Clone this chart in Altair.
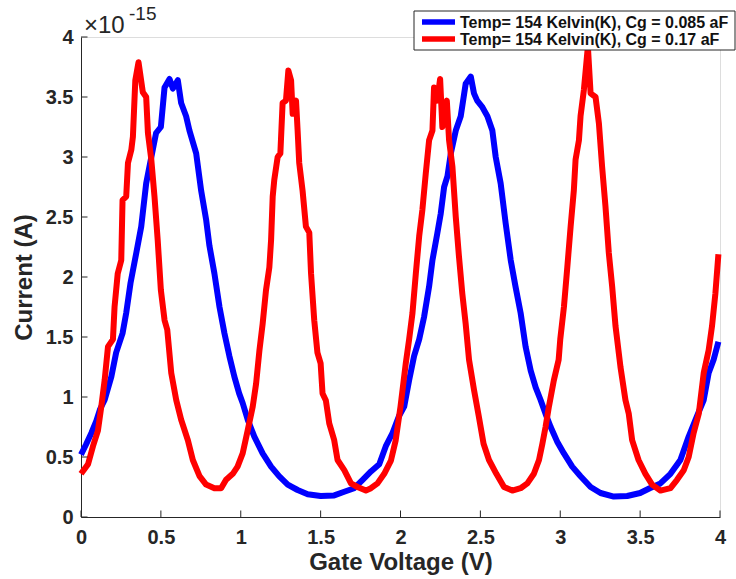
import altair as alt
import pandas as pd

# ---- data (current in units of 1e-15 A) ----
blue_v = [0.0, 0.03, 0.065, 0.096, 0.12, 0.148, 0.19, 0.22, 0.26, 0.283, 0.31, 0.346, 0.377, 0.408, 0.43,
          0.47, 0.5, 0.523, 0.554, 0.575, 0.606, 0.627, 0.658, 0.679, 0.721, 0.752, 0.783, 0.804, 0.835,
          0.867, 0.898, 0.929, 0.96, 0.99, 1.012, 1.044, 1.085, 1.137, 1.19, 1.24, 1.294, 1.356, 1.419,
          1.5, 1.585, 1.648, 1.71, 1.763, 1.815, 1.867, 1.908, 1.95, 1.99, 2.023, 2.054, 2.085, 2.117,
          2.148, 2.179, 2.2, 2.23, 2.252, 2.273, 2.294, 2.315, 2.346, 2.377, 2.408, 2.44, 2.46, 2.48,
          2.51, 2.544, 2.575, 2.596, 2.627, 2.658, 2.69, 2.72, 2.752, 2.783, 2.815, 2.846, 2.877, 2.908,
          2.94, 2.98, 3.023, 3.075, 3.127, 3.19, 3.252, 3.335, 3.419, 3.5, 3.56, 3.627, 3.69, 3.752,
          3.804, 3.856, 3.898, 3.929, 3.96, 3.99]
blue_i = [0.52, 0.6, 0.70, 0.8, 0.9, 0.975, 1.17, 1.37, 1.53, 1.70, 1.95, 2.2, 2.42, 2.78, 2.93,
          3.2, 3.25, 3.58, 3.65, 3.57, 3.64, 3.45, 3.34, 3.22, 3.03, 2.72, 2.48, 2.26, 2.03,
          1.75, 1.53, 1.34, 1.17, 1.03, 0.95, 0.81, 0.67, 0.53, 0.42, 0.34, 0.27, 0.225, 0.19,
          0.175, 0.18, 0.21, 0.24, 0.31, 0.38, 0.44, 0.59, 0.70, 0.84, 0.92, 1.14, 1.34, 1.48,
          1.67, 1.92, 2.14, 2.36, 2.53, 2.75, 2.84, 3.03, 3.22, 3.34, 3.61, 3.67, 3.53, 3.47,
          3.42, 3.34, 3.22, 3.0, 2.78, 2.45, 2.14, 1.92, 1.7, 1.42, 1.22, 1.08, 0.975, 0.86,
          0.75, 0.63, 0.53, 0.42, 0.34, 0.25, 0.2, 0.17, 0.175, 0.2, 0.24, 0.28, 0.36, 0.475,
          0.67, 0.84, 0.975, 1.2, 1.31, 1.46]

red_v = [0.0, 0.044, 0.075, 0.106, 0.127, 0.148, 0.169, 0.2, 0.21, 0.23, 0.252, 0.26, 0.283, 0.294,
         0.315, 0.325, 0.34, 0.36, 0.387, 0.408, 0.419, 0.44, 0.46, 0.48, 0.5, 0.523, 0.54, 0.565,
         0.596, 0.627, 0.669, 0.7, 0.742, 0.783, 0.835, 0.877, 0.908, 0.95, 0.98, 1.012, 1.044, 1.075,
         1.096, 1.117, 1.137, 1.158, 1.179, 1.19, 1.2, 1.21, 1.231, 1.248, 1.262, 1.283, 1.298, 1.315,
         1.325, 1.346, 1.356, 1.366, 1.387, 1.408, 1.429, 1.44, 1.46, 1.48, 1.5, 1.512, 1.533, 1.554,
         1.585, 1.606, 1.648, 1.69, 1.731, 1.783, 1.815, 1.856, 1.898, 1.94, 1.97, 2.0, 2.033, 2.054,
         2.075, 2.096, 2.117, 2.137, 2.158, 2.179, 2.2, 2.21, 2.23, 2.248, 2.262, 2.29, 2.304, 2.325,
         2.346, 2.366, 2.387, 2.408, 2.429, 2.46, 2.49, 2.52, 2.554, 2.6, 2.648, 2.7, 2.752, 2.794,
         2.835, 2.867, 2.888, 2.908, 2.929, 2.96, 2.99, 3.0, 3.023, 3.044, 3.065, 3.085, 3.096, 3.117,
         3.127, 3.148, 3.173, 3.19, 3.221, 3.242, 3.262, 3.283, 3.304, 3.325, 3.346, 3.377, 3.408,
         3.429, 3.45, 3.49, 3.533, 3.575, 3.627, 3.69, 3.731, 3.773, 3.804, 3.835, 3.867, 3.898,
         3.929, 3.95, 3.971, 3.99]
red_i = [0.36, 0.44, 0.59, 0.72, 0.92, 1.14, 1.42, 1.48, 1.75, 2.03, 2.14, 2.64, 2.67, 2.95,
         3.06, 3.17, 3.64, 3.79, 3.54, 3.5, 3.2, 2.98, 2.67, 2.31, 1.89, 1.64, 1.56, 1.2,
         0.975, 0.81, 0.64, 0.475, 0.34, 0.27, 0.24, 0.24, 0.31, 0.36, 0.42, 0.53, 0.725, 0.92,
         1.11, 1.39, 1.61, 1.89, 2.08, 2.31, 2.67, 2.81, 3.0, 3.03, 3.45, 3.47, 3.72, 3.64,
         3.36, 3.47, 3.22, 2.95, 2.72, 2.42, 2.37, 2.03, 1.64, 1.37, 1.28, 1.03, 0.97, 0.78,
         0.64, 0.475, 0.39, 0.28, 0.25, 0.22, 0.24, 0.28, 0.36, 0.47, 0.64, 0.92, 1.28, 1.48,
         1.7, 2.03, 2.34, 2.56, 2.86, 3.14, 3.22, 3.58, 3.47, 3.65, 3.25, 3.47, 3.14, 2.92,
         2.5, 2.17, 1.86, 1.61, 1.31, 1.06, 0.84, 0.61, 0.475, 0.36, 0.25, 0.22, 0.24, 0.28,
         0.36, 0.475, 0.61, 0.75, 0.92, 1.14, 1.31, 1.48, 1.75, 2.08, 2.42, 2.72, 2.98, 3.14,
         3.34, 3.56, 3.92, 3.53, 3.5, 3.28, 2.92, 2.59, 2.2, 1.92, 1.59, 1.25, 0.975,
         0.86, 0.64, 0.475, 0.36, 0.27, 0.22, 0.24, 0.31, 0.39, 0.5, 0.70, 0.86, 1.2,
         1.39, 1.59, 1.86, 2.19]

series = ["Temp= 154 Kelvin(K), Cg = 0.085 aF", "Temp= 154 Kelvin(K), Cg = 0.17 aF"]
colors = ["#0000FF", "#FF0000"]
x_ticks = [0, 0.5, 1, 1.5, 2, 2.5, 3, 3.5, 4]
y_ticks = [0, 0.5, 1, 1.5, 2, 2.5, 3, 3.5, 4]

df = pd.concat([
    pd.DataFrame({"v": blue_v, "i": blue_i, "s": series[0]}),
    pd.DataFrame({"v": red_v, "i": red_i, "s": series[1]}),
], ignore_index=True)
df["idx"] = range(len(df))

W, H = 639, 480
FONT = "Liberation Sans"
AX = "#262626"

xs = alt.Scale(domain=[0, 4], nice=False, zero=False)
ys = alt.Scale(domain=[0, 4], nice=False, zero=False)
cs = alt.Scale(domain=series, range=colors)

x_axis = alt.Axis(values=x_ticks, format=".1~f", title="Gate Voltage (V)", grid=False, ticks=False,
                  orient="bottom",
                  domainColor=AX, domainWidth=1, labelFont=FONT, labelFontSize=20, labelFontWeight="bold",
                  labelColor=AX, labelPadding=10, labelFlush=False, labelOverlap=False,
                  titleFont=FONT, titleFontSize=24, titleFontWeight="bold", titleColor=AX, titlePadding=3)
y_axis = alt.Axis(values=y_ticks, format=".1~f", title="Current (A)", grid=False, ticks=False,
                  orient="left",
                  domainColor=AX, domainWidth=1, labelFont=FONT, labelFontSize=20, labelFontWeight="bold",
                  labelColor=AX, labelPadding=8, labelFlush=False, labelOverlap=False,
                  titleFont=FONT, titleFontSize=24, titleFontWeight="bold", titleColor=AX, titlePadding=9)

X = alt.X("v:Q", scale=xs, axis=x_axis)
Y = alt.Y("i:Q", scale=ys, axis=y_axis)

lines = alt.Chart(df).mark_line(strokeWidth=6, strokeJoin="round", clip=False).encode(
    x=X, y=Y,
    color=alt.Color("s:N", scale=cs, legend=None),
    order=alt.Order("idx:Q"),
)

tick_df = pd.DataFrame({"v": x_ticks, "i": y_ticks})
xt = alt.Chart(tick_df).mark_rule(color=AX, strokeWidth=1).encode(
    x=X, y=alt.value(H), y2=alt.value(H - 6.5))
yt = alt.Chart(tick_df).mark_rule(color=AX, strokeWidth=1).encode(
    y=Y, x=alt.value(0), x2=alt.value(6.5))

mult = alt.Chart(pd.DataFrame({"t": ["×10"]})).mark_text(
    font=FONT, fontSize=24, color=AX, align="left", baseline="alphabetic").encode(
    text="t:N", x=alt.value(3), y=alt.value(-4))
expo = alt.Chart(pd.DataFrame({"t": ["-15"]})).mark_text(
    font=FONT, fontSize=19, color=AX, align="left", baseline="alphabetic").encode(
    text="t:N", x=alt.value(48), y=alt.value(-17))

box = alt.Chart(pd.DataFrame({"a": [0]})).mark_rect(fill="white", stroke=AX, strokeWidth=1).encode(
    x=alt.value(333), x2=alt.value(654), y=alt.value(-26), y2=alt.value(13))

leg_layers = []
for k, (lab, col) in enumerate(zip(series, colors)):
    yy = -15 + 17 * k
    d = pd.DataFrame({"t": [lab]})
    leg_layers.append(alt.Chart(d).mark_rule(color=col, strokeWidth=5.5).encode(
        x=alt.value(341), x2=alt.value(374), y=alt.value(yy)))
    leg_layers.append(alt.Chart(d).mark_text(font=FONT, fontSize=16, fontWeight="bold", color="#111111",
                                             align="left", baseline="middle").encode(
        text="t:N", x=alt.value(379), y=alt.value(yy + 1)))

chart = alt.layer(lines, xt, yt, mult, expo, box, *leg_layers).properties(
    width=W, height=H,
    autosize=alt.AutoSizeParams(type="none"),
    padding={"left": 81, "top": 37, "right": 16, "bottom": 62},
).configure_view(stroke=None).configure(background="white")

chart.save("out.html", embed_options={"renderer": "svg", "actions": False})
